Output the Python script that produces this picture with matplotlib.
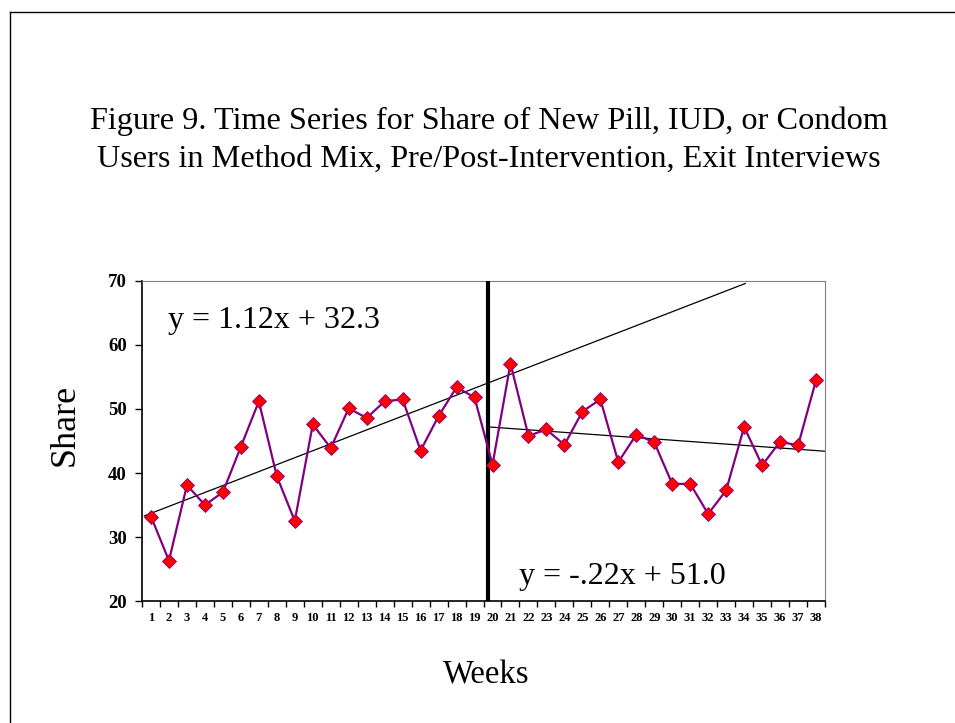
import numpy as np
import matplotlib.pyplot as plt
from matplotlib.lines import Line2D

plt.rcParams['font.family'] = ['Liberation Serif', 'DejaVu Serif']

weeks = np.arange(1, 39)
share = [33.2, 26.3, 38.1, 35.0, 37.0, 44.1, 51.2, 39.5, 32.5, 47.6,
         43.9, 50.1, 48.6, 51.2, 51.5, 43.5, 48.9, 53.4, 51.8, 41.3,
         57.1, 45.8, 46.8, 44.4, 49.6, 51.5, 41.7, 46.0, 44.8, 38.3,
         38.3, 33.6, 37.3, 47.2, 41.2, 44.9, 44.3, 54.5]

# fitted lines as drawn on the chart (endpoints)
pre_x = [0.63, 34.06]
pre_y = [33.3, 69.6]
post_x = [19.77, 38.5]
post_y = [47.2, 43.4]
break_x = 19.77

W, H = 955, 723
fig = plt.figure(figsize=(9.55, 7.23), dpi=100)
ax = fig.add_axes([0.1487, 0.1687, 0.7152, 0.4427])

ax.plot(pre_x, pre_y, color='black', lw=0.9, zorder=2)
ax.plot(post_x, post_y, color='black', lw=0.9, zorder=2)
ax.plot([break_x, break_x], [20, 69.7], color='black', lw=3, zorder=3)
ax.plot(weeks, share, color='#800080', lw=1.6, marker='D', ms=7, 
        mfc='#ff0000', mec='#800080', mew=0.6, zorder=4)

ax.set_xlim(0.5, 38.5)
ax.set_ylim(20, 70)
ax.set_yticks([20, 30, 40, 50, 60, 70])
ax.set_xticks(np.arange(0.5, 39, 1))
ax.set_xticklabels([])
ax.set_xticks(weeks, minor=True)
ax.set_xticklabels([str(w) for w in weeks], minor=True, fontsize=9, fontweight='bold')
ax.tick_params(axis='x', which='major', direction='out', length=4, width=1)
ax.tick_params(axis='x', which='minor', length=0, pad=8)
ax.tick_params(axis='y', direction='out', length=5, width=1, labelsize=13.5, pad=6)
for lab in ax.get_yticklabels():
    lab.set_fontweight('bold')

for s in ['top', 'right']:
    ax.spines[s].set_color('#808080')
ax.spines['left'].set_linewidth(1.2)
ax.spines['bottom'].set_linewidth(1.2)

ax.text(1.95, 63.9, 'y = 1.12x + 32.3', fontsize=23, va='center')
ax.text(21.5, 23.9, 'y = -.22x + 51.0', fontsize=23, va='center')

fig.text(65 / W, 1 - 425 / H, 'Share', rotation=90, ha='center', va='center', fontsize=26)
fig.text(486 / W, 1 - 683 / H, 'Weeks', ha='center', va='baseline', fontsize=23.5)

fig.text(489 / W, 1 - 129 / H, 'Figure 9. Time Series for Share of New Pill, IUD, or Condom',
         ha='center', va='baseline', fontsize=23.2)
fig.text(489 / W, 1 - 167 / H, 'Users in Method Mix, Pre/Post-Intervention, Exit Interviews',
         ha='center', va='baseline', fontsize=23.2)

fig.add_artist(Line2D([9.5 / W, 9.5 / W], [0, 1 - 11.5 / H], color='black', lw=1))
fig.add_artist(Line2D([9.5 / W, 1], [1 - 11.5 / H, 1 - 11.5 / H], color='black', lw=1))

fig.savefig('out.png', dpi=100)
